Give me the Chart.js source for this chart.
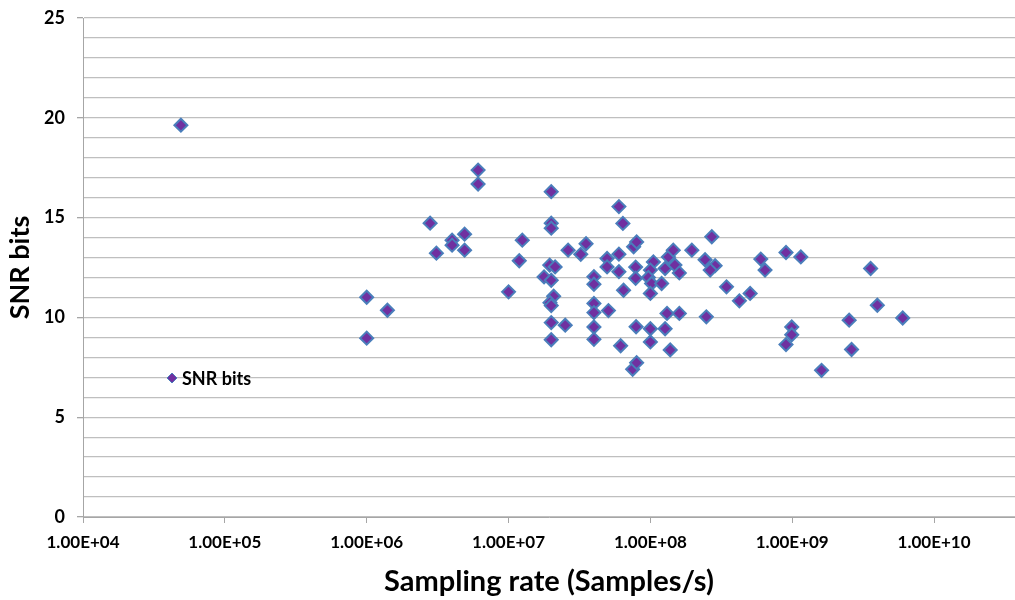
<!DOCTYPE html>
<html lang="en">
<head>
  <meta charset="UTF-8" />
  <title>SNR bits vs sampling rate</title>
  <script src="https://cdn.jsdelivr.net/npm/chart.js"></script>
  <style>
    html, body { margin: 0; padding: 0; background: #fff; }
    canvas { display: block; }
  </style>
</head>
<body>
  <canvas id="snrChart" width="1015" height="600"></canvas>

  <script>
    // sampling rate (Samples/s) of each converter
    const sampleRates = [
      4.9e4, 1.0e6, 1.0e6, 1.4e6, 2.8e6, 3.1e6, 4.0e6, 4.0e6, 4.9e6, 4.9e6,
      6.1e6, 6.1e6, 1.0e7, 1.19e7, 1.25e7, 2.0e7, 2.0e7, 2.0e7, 1.95e7, 2.13e7,
      1.78e7, 2.0e7, 2.08e7, 1.96e7, 2.0e7, 2.0e7, 2.51e7, 2.0e7, 2.63e7, 3.23e7,
      3.52e7, 4.0e7, 4.0e7, 4.0e7, 4.0e7, 5.06e7, 4.0e7, 4.0e7, 4.95e7, 4.95e7,
      6.0e7, 6.4e7, 6.0e7, 6.0e7, 6.47e7, 6.17e7, 7.62e7, 8.0e7, 7.87e7, 7.87e7,
      7.93e7, 7.5e7, 8.0e7, 1.05e8, 1.0e8, 9.68e7, 1.02e8, 1.0e8, 1.2e8, 1.27e8,
      1.34e8, 1.45e8, 1.49e8, 1.6e8, 1.96e8, 2.71e8, 2.43e8, 2.86e8, 2.64e8, 3.44e8,
      1.31e8, 1.6e8, 2.48e8, 1.0e8, 1.27e8, 1.0e8, 1.38e8, 4.24e8, 5.05e8, 6.0e8,
      6.43e8, 9.04e8, 1.15e9, 9.92e8, 9.92e8, 9.04e8, 3.57e9, 3.98e9, 6.01e9, 2.52e9,
      2.62e9, 1.61e9
    ];
    // effective resolution, bits
    const snrBits = [
      19.63, 11.01, 8.96, 10.36, 14.72, 13.22, 13.87, 13.62, 14.17, 13.37,
      17.38, 16.68, 11.28, 12.84, 13.87, 16.30, 14.72, 14.47, 12.62, 12.53,
      12.03, 11.86, 11.06, 10.74, 10.59, 9.74, 9.61, 8.88, 13.37, 13.16,
      13.69, 12.04, 11.66, 10.70, 10.24, 10.34, 9.52, 8.90, 12.95, 12.53,
      15.55, 14.71, 13.17, 12.29, 11.36, 8.58, 13.54, 13.78, 12.52, 11.96,
      9.53, 7.40, 7.73, 12.78, 12.37, 12.00, 11.70, 11.20, 11.70, 12.45,
      13.03, 13.37, 12.62, 12.23, 13.37, 14.04, 12.89, 12.59, 12.37, 11.53,
      10.20, 10.20, 10.03, 9.43, 9.43, 8.77, 8.37, 10.83, 11.20, 12.92,
      12.37, 13.25, 13.03, 9.52, 9.13, 8.64, 12.45, 10.61, 9.97, 9.86,
      8.39, 7.35
    ];
    const seriesName = 'SNR bits';
    const xDecades = [1e4, 1e5, 1e6, 1e7, 1e8, 1e9, 1e10];

    const FONT = 'Lato, "Liberation Sans", sans-serif';
    const FILL = '#7030A0';
    const EDGE = '#4A7EBB';

    function sci(v) {
      const e = Math.round(Math.log10(v));
      const m = (v / Math.pow(10, e)).toFixed(2);
      return m + 'E' + (e < 0 ? '-' : '+') + String(Math.abs(e)).padStart(2, '0');
    }

    // legend sits inside the plot, like the spreadsheet one
    const insideLegend = {
      id: 'insideLegend',
      afterDraw(chart) {
        const ctx = chart.ctx;
        const x = 172, y = 378, r = 5;
        ctx.save();
        ctx.beginPath();
        ctx.moveTo(x, y - r);
        ctx.lineTo(x + r, y);
        ctx.lineTo(x, y + r);
        ctx.lineTo(x - r, y);
        ctx.closePath();
        ctx.fillStyle = FILL;
        ctx.fill();
        ctx.lineWidth = 1;
        ctx.strokeStyle = EDGE;
        ctx.stroke();
        ctx.fillStyle = '#000';
        ctx.font = 'bold 18px ' + FONT;
        ctx.textBaseline = 'middle';
        ctx.fillText(seriesName, 182, y + 1);
        ctx.restore();
      }
    };

    new Chart(document.getElementById('snrChart'), {
      type: 'scatter',
      data: {
        datasets: [{
          label: seriesName,
          data: sampleRates.map((r, i) => ({ x: r, y: snrBits[i] })),
          pointStyle: 'rectRot',
          pointRadius: 6.5,
          pointBackgroundColor: FILL,
          pointBorderColor: EDGE,
          pointBorderWidth: 2
        }]
      },
      options: {
        responsive: false,
        animation: false,
        devicePixelRatio: 1,
        layout: { autoPadding: false, padding: { top: 18, left: 0, right: 0, bottom: 0 } },
        plugins: {
          legend: { display: false },
          tooltip: { enabled: false }
        },
        scales: {
          x: {
            type: 'logarithmic',
            min: 1e4,
            max: 3.72e10,
            afterBuildTicks: s => { s.ticks = xDecades.map(v => ({ value: v })); },
            afterFit: s => { s.height = 83; s.paddingLeft = 0; s.paddingRight = 0; },
            border: { display: true, color: '#a6a6a6', width: 1 },
            grid: { display: true, drawOnChartArea: false, tickLength: 6, color: '#a6a6a6' },
            ticks: {
              autoSkip: false,
              maxRotation: 0,
              padding: 9,
              color: '#000',
              font: { family: FONT, size: 17, weight: 'bold' },
              callback: v => sci(v)
            },
            title: {
              display: true,
              text: 'Sampling rate (Samples/s)',
              color: '#000',
              font: { family: FONT, size: 29, weight: 'bold' },
              padding: { top: 0, bottom: 1 }
            }
          },
          y: {
            min: 0,
            max: 25,
            afterFit: s => { s.width = 83; s.paddingTop = 0; s.paddingBottom = 0; },
            border: { display: true, color: '#a6a6a6', width: 1 },
            grid: {
              color: '#bfbfbf',
              lineWidth: 1.3,
              tickLength: 6,
              tickColor: c => (c.tick && c.tick.value % 5 === 0) ? '#a6a6a6' : 'rgba(0,0,0,0)'
            },
            ticks: {
              stepSize: 1,
              autoSkip: false,
              padding: 12,
              color: '#000',
              font: { family: FONT, size: 18, weight: 'bold' },
              callback: v => (v % 5 === 0 ? v : '')
            },
            title: {
              display: true,
              text: 'SNR bits',
              color: '#000',
              font: { family: FONT, size: 27, weight: 'bold' },
              padding: { top: 4, bottom: 0 }
            }
          }
        }
      },
      plugins: [insideLegend]
    });
  </script>
</body>
</html>
